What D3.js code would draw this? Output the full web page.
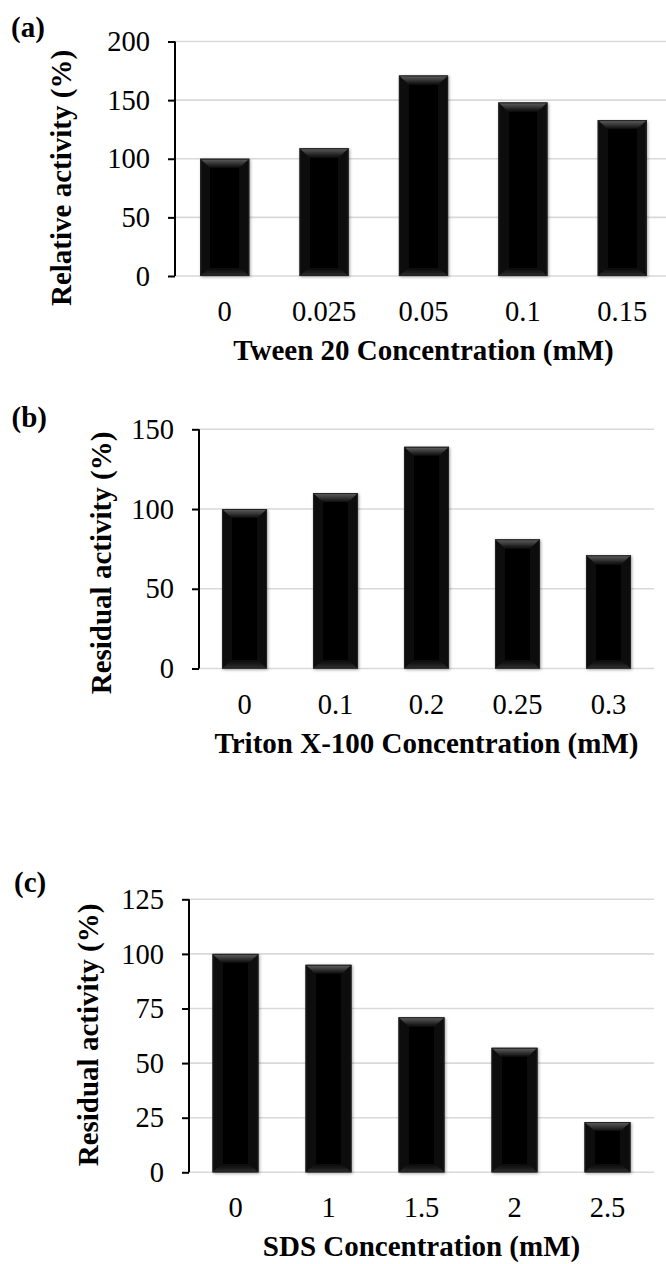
<!DOCTYPE html>
<html>
<head>
<meta charset="utf-8">
<script src="https://cdn.jsdelivr.net/npm/d3@7"></script>
<style>
  html, body { margin: 0; padding: 0; background: #fff; }
  svg { display: block; }
  text { font-family: "Liberation Serif", "Times New Roman", serif; fill: #000; }
</style>
</head>
<body>
<svg id="chart" width="666" height="1264"></svg>
<script>
// ---- data ----
const tweenConc = ["0", "0.025", "0.05", "0.1", "0.15"];
const tweenActivity = [100, 109, 171, 148, 133];
const tweenTicks = [0, 50, 100, 150, 200];

const tritonConc = ["0", "0.1", "0.2", "0.25", "0.3"];
const tritonActivity = [100, 110, 139, 81, 71];
const tritonTicks = [0, 50, 100, 150];

const sdsConc = ["0", "1", "1.5", "2", "2.5"];
const sdsActivity = [100, 95, 71, 57, 23];
const sdsTicks = [0, 25, 50, 75, 100, 125];

// ---- panel layout ----
const panels = [
  { tag: "(a)", cats: tweenConc, vals: tweenActivity, ticks: tweenTicks,
    yTitle: "Relative activity (%)", xTitle: "Tween 20 Concentration (mM)",
    left: 175, right: 672, top: 41.5, bottom: 276,
    tagX: 11, tagY: 37, yTitleX: 71, yTitleY: 178 },
  { tag: "(b)", cats: tritonConc, vals: tritonActivity, ticks: tritonTicks,
    yTitle: "Residual activity (%)", xTitle: "Triton X-100 Concentration (mM)",
    left: 199, right: 654, top: 429.3, bottom: 668.5,
    tagX: 11.5, tagY: 427, yTitleX: 110.5, yTitleY: 563 },
  { tag: "(c)", cats: sdsConc, vals: sdsActivity, ticks: sdsTicks,
    yTitle: "Residual activity (%)", xTitle: "SDS Concentration (mM)",
    left: 189, right: 654, top: 899.3, bottom: 1172.3,
    tagX: 14, tagY: 892, yTitleX: 98, yTitleY: 1035 }
];

const svg = d3.select("#chart");
const defs = svg.append("defs");

// bevel gradients and soft shadow for the bars
const gTop = defs.append("linearGradient").attr("id", "bevelTop")
  .attr("x1", 0).attr("y1", 0).attr("x2", 0).attr("y2", 1);
gTop.append("stop").attr("offset", "0%").attr("stop-color", "#626262");
gTop.append("stop").attr("offset", "100%").attr("stop-color", "#0c0c0c");

const gBot = defs.append("linearGradient").attr("id", "bevelBottom")
  .attr("x1", 0).attr("y1", 0).attr("x2", 0).attr("y2", 1);
gBot.append("stop").attr("offset", "0%").attr("stop-color", "#080808");
gBot.append("stop").attr("offset", "100%").attr("stop-color", "#303030");

const shadow = defs.append("filter").attr("id", "barShadow")
  .attr("x", "-20%").attr("y", "-10%").attr("width", "140%").attr("height", "120%");
shadow.append("feDropShadow").attr("dx", 1).attr("dy", 1)
  .attr("stdDeviation", 1.4).attr("flood-color", "#000").attr("flood-opacity", 0.35);

panels.forEach(p => {
  const g = svg.append("g");

  const x = d3.scaleBand().domain(p.cats).range([p.left, p.right])
    .paddingInner(0.505).paddingOuter(0.2525);
  const yMax = p.ticks[p.ticks.length - 1];
  const y = d3.scaleLinear().domain([0, yMax]).range([p.bottom, p.top]);

  // horizontal gridlines
  g.append("g").selectAll("line").data(p.ticks).join("line")
    .attr("x1", p.left).attr("x2", p.right)
    .attr("y1", d => y(d)).attr("y2", d => y(d))
    .attr("stroke", "#d9d9d9").attr("stroke-width", 1.6);

  // bars with bevel
  const bev = 9, ins = 10;
  const bars = g.append("g").selectAll("g").data(p.cats.map((c, i) => ({ c, v: p.vals[i] })))
    .join("g").attr("filter", "url(#barShadow)");
  bars.each(function (d) {
    const b = d3.select(this);
    const x0 = x(d.c), x1 = x0 + x.bandwidth();
    const y0 = y(d.v), y1 = y(0);
    b.append("rect").attr("x", x0).attr("y", y0)
      .attr("width", x1 - x0).attr("height", y1 - y0).attr("fill", "#111");
    // center face
    b.append("rect").attr("x", x0 + ins).attr("y", y0 + bev)
      .attr("width", x1 - x0 - 2 * ins).attr("height", Math.max(0, y1 - y0 - 2 * bev + 1))
      .attr("fill", "#030303");
    // top bevel
    b.append("path").attr("fill", "url(#bevelTop)")
      .attr("d", `M${x0},${y0}L${x1},${y0}L${x1 - ins},${y0 + bev}L${x0 + ins},${y0 + bev}Z`);
    // bottom bevel
    b.append("path").attr("fill", "url(#bevelBottom)")
      .attr("d", `M${x0 + ins},${y1 - bev + 1}L${x1 - ins},${y1 - bev + 1}L${x1},${y1}L${x0},${y1}Z`);
    b.append("rect").attr("x", x0 + 0.5).attr("y", y0 + 0.5)
      .attr("width", x1 - x0 - 1).attr("height", y1 - y0 - 1)
      .attr("fill", "none").attr("stroke", "#222").attr("stroke-width", 1);
  });

  // y axis
  const yAxis = d3.axisLeft(y).tickValues(p.ticks).tickSize(7).tickPadding(18);
  const ya = g.append("g").attr("transform", `translate(${p.left},0)`).call(yAxis);
  ya.select(".domain").attr("stroke", "#000").attr("stroke-width", 2)
    .attr("d", `M0,${p.top}V${p.bottom}`);
  ya.selectAll(".tick line").attr("stroke", "#000").attr("stroke-width", 2);
  ya.selectAll(".tick text").attr("font-size", 28.5)
    .attr("font-family", "Liberation Serif, Times New Roman, serif").attr("dy", "0.32em");

  // x axis labels (no line, no ticks)
  const xAxis = d3.axisBottom(x).tickSize(0).tickPadding(0);
  const xa = g.append("g").attr("transform", `translate(0,${p.bottom})`).call(xAxis);
  xa.select(".domain").remove();
  xa.selectAll(".tick text").attr("font-size", 28.5)
    .attr("font-family", "Liberation Serif, Times New Roman, serif")
    .attr("y", 45).attr("dy", 0);

  // axis titles
  g.append("text").attr("x", (p.left + p.right) / 2).attr("y", p.bottom + 84)
    .attr("text-anchor", "middle").attr("font-size", 29).attr("font-weight", "bold")
    .text(p.xTitle);
  g.append("text").attr("transform", `translate(${p.yTitleX},${p.yTitleY}) rotate(-90)`)
    .attr("text-anchor", "middle").attr("font-size", 29).attr("font-weight", "bold")
    .text(p.yTitle);

  // panel tag
  g.append("text").attr("x", p.tagX).attr("y", p.tagY)
    .attr("font-size", 29).attr("font-weight", "bold").text(p.tag);
});
</script>
</body>
</html>
